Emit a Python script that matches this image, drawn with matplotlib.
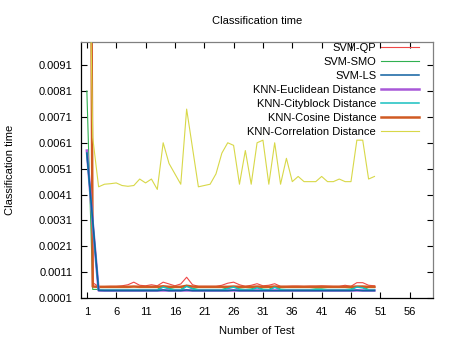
import matplotlib
matplotlib.use("Agg")
import matplotlib.pyplot as plt
import numpy as np

plt.rcParams['font.family'] = ['Liberation Sans', 'DejaVu Sans']
plt.rcParams['font.size'] = 8

# test index 1..50
tests = np.arange(1, 51)

svm_qp = [0.06, 0.0007, 0.00055, 0.00055, 0.00056, 0.00056, 0.00058, 0.00062, 0.00072, 0.0006,
          0.00058, 0.00062, 0.00058, 0.00072, 0.00065, 0.00058, 0.00065, 0.00091, 0.00062, 0.00056,
          0.00056, 0.00056, 0.00056, 0.0006, 0.00068, 0.00072, 0.00062, 0.00056, 0.0006, 0.00066,
          0.00058, 0.0006, 0.00066, 0.00056, 0.00056, 0.00057, 0.00057, 0.00056, 0.00057, 0.00057,
          0.00058, 0.00057, 0.00056, 0.00056, 0.0006, 0.00056, 0.0007, 0.0007, 0.0006, 0.00058]

svm_smo = [0.0081, 0.00044, 0.00044, 0.00044, 0.00044, 0.00044, 0.00044, 0.00044, 0.00044, 0.00044,
           0.00044, 0.00044, 0.00044, 0.00056, 0.00048, 0.00044, 0.00044, 0.0006, 0.00048, 0.00044,
           0.00044, 0.00044, 0.00044, 0.00044, 0.0005, 0.00055, 0.00046, 0.00044, 0.00046, 0.00052,
           0.00045, 0.00044, 0.00055, 0.00045, 0.00044, 0.00044, 0.00044, 0.00044, 0.00044, 0.00046,
           0.00046, 0.00044, 0.00044, 0.00044, 0.00044, 0.00046, 0.00055, 0.00052, 0.00044, 0.00044]

svm_ls = [0.0057, 0.0031, 0.0004, 0.00039, 0.00039, 0.00039, 0.00039, 0.00039, 0.00039, 0.00039,
          0.00039, 0.00039, 0.00039, 0.00042, 0.00039, 0.00039, 0.00039, 0.00042, 0.00039, 0.00039,
          0.00039, 0.00039, 0.00039, 0.00039, 0.00039, 0.00041, 0.00039, 0.00039, 0.00039, 0.00039,
          0.00039, 0.00039, 0.00039, 0.00039, 0.00039, 0.00039, 0.00039, 0.00039, 0.00039, 0.00039,
          0.00039, 0.00039, 0.00039, 0.00039, 0.00039, 0.00039, 0.00041, 0.00039, 0.00039, 0.00039]

knn_euclidean = [0.0058, 0.003, 0.0004, 0.0004, 0.0004, 0.0004, 0.0004, 0.0004, 0.0004, 0.0004,
                 0.0004, 0.0004, 0.0004, 0.0004, 0.0004, 0.0004, 0.0004, 0.0004, 0.0004, 0.0004,
                 0.0004, 0.0004, 0.0004, 0.0004, 0.0004, 0.0004, 0.0004, 0.0004, 0.0004, 0.0004,
                 0.0004, 0.0004, 0.0004, 0.0004, 0.0004, 0.0004, 0.0004, 0.0004, 0.0004, 0.0004,
                 0.0004, 0.0004, 0.0004, 0.0004, 0.0004, 0.0004, 0.0004, 0.0004, 0.0004, 0.0004]

knn_cityblock = [0.0057, 0.003, 0.00041, 0.00041, 0.00041, 0.00041, 0.00041, 0.00041, 0.00041, 0.00041,
                 0.00041, 0.00041, 0.00041, 0.00053, 0.00046, 0.00041, 0.00041, 0.00056, 0.00046, 0.00041,
                 0.00041, 0.00041, 0.00041, 0.00041, 0.00047, 0.00053, 0.00044, 0.00041, 0.00043, 0.0005,
                 0.00043, 0.00041, 0.00052, 0.00043, 0.00041, 0.00041, 0.00041, 0.00041, 0.00041, 0.00043,
                 0.00043, 0.00041, 0.00041, 0.00041, 0.00041, 0.00043, 0.00053, 0.0005, 0.00041, 0.00041]

knn_cosine = [0.05, 0.00055, 0.00054, 0.00054, 0.00054, 0.00054, 0.00054, 0.00054, 0.00055, 0.00054,
              0.00054, 0.00054, 0.00054, 0.00056, 0.00054, 0.00054, 0.00054, 0.00058, 0.00055, 0.00054,
              0.00054, 0.00054, 0.00054, 0.00054, 0.00054, 0.00055, 0.00054, 0.00054, 0.00054, 0.00055,
              0.00054, 0.00054, 0.00055, 0.00054, 0.00054, 0.00054, 0.00054, 0.00054, 0.00054, 0.00054,
              0.00054, 0.00054, 0.00054, 0.00054, 0.00054, 0.00054, 0.00055, 0.00055, 0.00054, 0.00054]

knn_correlation = [0.02, 0.0063, 0.0044, 0.0045, 0.00452, 0.00455, 0.00445, 0.00442, 0.00445, 0.0047,
                   0.00455, 0.0047, 0.0043, 0.0061, 0.0053, 0.0049, 0.0045, 0.0074, 0.0059, 0.0044,
                   0.00445, 0.0045, 0.0049, 0.0057, 0.0061, 0.006, 0.0045, 0.0058, 0.0045, 0.0061,
                   0.0062, 0.0045, 0.0061, 0.0045, 0.0055, 0.0046, 0.0048, 0.0046, 0.0046, 0.0046,
                   0.0048, 0.0046, 0.0046, 0.0047, 0.0046, 0.0046, 0.0062, 0.0062, 0.0047, 0.0048]

labels = ['SVM-QP', 'SVM-SMO', 'SVM-LS', 'KNN-Euclidean Distance',
          'KNN-Cityblock Distance', 'KNN-Cosine Distance', 'KNN-Correlation Distance']
colors = ['#f04848', '#30b050', '#1060a0', '#a858d8', '#18c0c0', '#d05a22', '#d8d848']
widths = [0.8, 0.8, 1.1, 1.8, 1.1, 1.8, 0.8]
zorders = [2, 2, 4, 3, 3, 2, 5]
series = [svm_qp, svm_smo, svm_ls, knn_euclidean, knn_cityblock, knn_cosine, knn_correlation]

fig = plt.figure(figsize=(4.55, 3.42), dpi=100)
ax = fig.add_axes([0.178, 0.128, 0.774, 0.750])

for vals, lab, c, lw, z in zip(series, labels, colors, widths, zorders):
    ax.plot(tests, vals, color=c, lw=lw, label=lab, zorder=z)

ax.set_xlim(0, 60)
ax.set_ylim(0.0001, 0.0100)
ax.set_xticks(np.arange(1, 57, 5))
ax.set_yticks(np.arange(0.0001, 0.0092, 0.001))
ax.set_yticklabels(['%.4f' % v for v in np.arange(0.0001, 0.0092, 0.001)])
ax.tick_params(direction='in', top=True, right=True, length=4, width=0.8, pad=6, labelsize=8)

for s in ['top', 'right']:
    ax.spines[s].set_color('#808080')
for s in ax.spines.values():
    s.set_linewidth(0.9)

ax.set_title('Classification time', fontsize=8, pad=13)
ax.set_xlabel('Number of Test', fontsize=8, labelpad=7)
ax.set_ylabel('Classification time', fontsize=8, labelpad=17)

ax.legend(loc='upper right', bbox_to_anchor=(0.963, 1.0), frameon=False, markerfirst=False,
          fontsize=8, handlelength=3.4, handletextpad=0.45, labelspacing=0.36,
          borderpad=0.1, borderaxespad=0)

fig.savefig('out.png', dpi=100)
